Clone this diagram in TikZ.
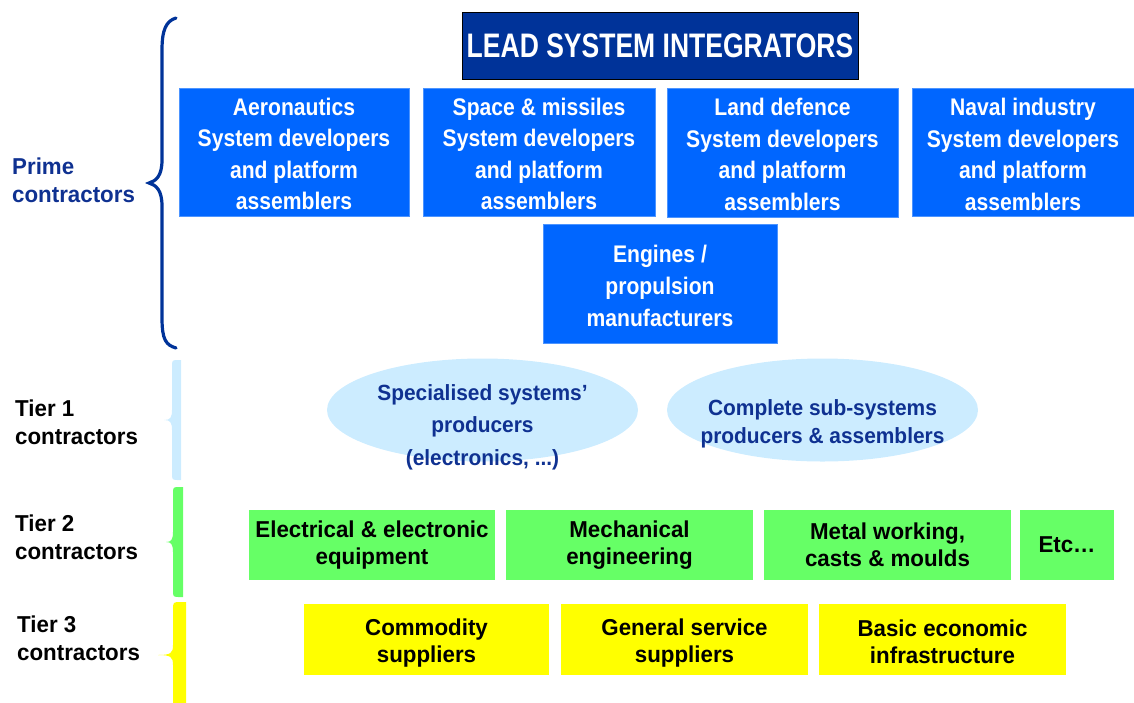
\documentclass[tikz,border=0pt]{standalone}
\usepackage{fontspec}
\setmainfont{Liberation Sans}
\newfontfamily\fblue[FakeStretch=0.88]{Liberation Sans}
\newfontfamily\flead[FakeStretch=0.78]{Liberation Sans}
\newfontfamily\fnorm[FakeStretch=0.97]{Liberation Sans}
\newfontfamily\fell[FakeStretch=0.95]{Liberation Sans}
\usetikzlibrary{shapes.geometric}
\definecolor{navy}{HTML}{003399}
\definecolor{dtext}{HTML}{0F3191}
\definecolor{bbox}{HTML}{0066FF}
\definecolor{ellc}{HTML}{CCECFF}
\definecolor{gbox}{HTML}{66FF66}
\definecolor{ybox}{HTML}{FFFF00}
\tikzset{
  leadbox/.style={draw=black, line width=1pt, fill=navy, text=white, inner sep=0pt,
    font=\flead\bfseries\fontsize{34}{40}\selectfont},
  bluebox/.style={fill=bbox, draw=bbox!70!white, line width=0.6pt, text=white, inner sep=0pt, align=center,
    font=\fblue\bfseries\fontsize{24}{31.5}\selectfont},
  ellshape/.style={ellipse, fill=ellc, inner sep=0pt},
  elltext/.style={text=dtext, align=center, inner sep=0pt, font=\fell\bfseries\fontsize{22}{28}\selectfont},
  greenbox/.style={fill=gbox, inner sep=0pt, align=center, text=black,
    font=\fnorm\bfseries\fontsize{23}{27}\selectfont},
  yellowbox/.style={fill=ybox, inner sep=0pt, align=center, text=black,
    font=\fnorm\bfseries\fontsize{23}{27}\selectfont},
  boxtext/.style={inner sep=0pt, align=center},
  sidelabel/.style={anchor=west, align=left, inner sep=0pt,
    font=\fnorm\bfseries\fontsize{23}{28}\selectfont},
}
\newcommand\mytierbrace[8]{% colour, xl, xr, yt, yb, xtip, ym, r
  \fill[#1] (#3,#4) -- (#3,#5) -- ({#2+#8},#5) .. controls (#2,#5) .. (#2,{#5-#8})
    -- (#2,{#7+10}) .. controls (#2,{#7+2}) and ({#2-2},#7) .. (#6,#7)
    .. controls ({#2-2},#7) and (#2,{#7-2}) .. (#2,{#7-10})
    -- (#2,{#4+#8}) .. controls (#2,#4) .. ({#2+#8},#4) -- cycle;}
\begin{document}
\begin{tikzpicture}[x=1pt, y=-1pt]
\useasboundingbox (0,0) rectangle (1134,702);

% lead
\node[leadbox, minimum width=396pt, minimum height=67pt] (lead) at (660,45.5) {LEAD SYSTEM INTEGRATORS};

% prime contractor boxes
\node[bluebox, minimum width=230pt, minimum height=128pt] (aero) at (294,152) {};
\node[bluebox, minimum width=232pt, minimum height=128pt] (space) at (539,152) {};
\node[bluebox, minimum width=231pt, minimum height=129pt] (land) at (782.5,152.5) {};
\node[bluebox, minimum width=222pt, minimum height=128pt] (naval) at (1023,152.5) {};
\node[bluebox, minimum width=234pt, minimum height=119pt] (eng) at (660,283.5) {};
\begin{scope}[every node/.style={boxtext, text=white, font=\fblue\bfseries\fontsize{24}{31.5}\selectfont}]
\node (aerot) at ([yshift=-2pt]aero.center) {Aeronautics\\System developers\\and platform\\assemblers};
\node (spacet) at ([yshift=-2pt]space.center) {Space \& missiles\\System developers\\and platform\\assemblers};
\node (landt) at ([yshift=-2pt]land.center) {Land defence\\System developers\\and platform\\assemblers};
\node (navalt) at ([yshift=-2pt]naval.center) {Naval industry\\System developers\\and platform\\assemblers};
\node[font=\fblue\bfseries\fontsize{24}{32}\selectfont] (engt) at ([yshift=-2pt]eng.center) {Engines /\\propulsion\\manufacturers};
\end{scope}

% tier 1 ellipses
\node[ellshape, minimum width=311pt, minimum height=103pt] (ell1) at (482.5,410) {};
\node[elltext, font=\fell\bfseries\fontsize{22}{32.5}\selectfont] (ell1t) at ([yshift=-17pt]ell1.center) {Specialised systems’\\producers\\(electronics, ...)};
\node[ellshape, minimum width=311pt, minimum height=103pt] (ell2) at (822.5,410) {};
\node[elltext] (ell2t) at ([yshift=-14pt]ell2.center) {Complete sub-systems\\producers \& assemblers};

% tier 2
\node[greenbox, minimum width=246pt, minimum height=70pt] (g1) at (372,545) {Electrical \& electronic\\equipment};
\node[greenbox, minimum width=247pt, minimum height=70pt] (g2) at (629.5,545) {Mechanical\\engineering};
\node[greenbox, minimum width=247pt, minimum height=70pt] (g3) at (887.5,545) {Metal working,\\casts \& moulds};
\node[greenbox, minimum width=94pt, minimum height=70pt] (g4) at (1067,545) {Etc…};

% tier 3
\node[yellowbox, minimum width=245pt, minimum height=71pt] (y1) at (426.5,639.5) {};
\node[yellowbox, minimum width=247pt, minimum height=71pt] (y2) at (684.5,639.5) {};
\node[yellowbox, minimum width=247pt, minimum height=71pt] (y3) at (942.5,639.5) {};
\begin{scope}[every node/.style={boxtext, font=\fnorm\bfseries\fontsize{23}{27}\selectfont}]
\node (y1t) at ([yshift=-4pt]y1.center) {Commodity\\suppliers};
\node (y2t) at ([yshift=-4pt]y2.center) {General service\\suppliers};
\node (y3t) at ([yshift=-2pt]y3.center) {Basic economic\\infrastructure};
\end{scope}

% side labels
\node[sidelabel, text=dtext] (lprime) at (12,180) {Prime\\contractors};
\node[sidelabel] (lt1) at (15,422) {Tier 1\\contractors};
\node[sidelabel] (lt2) at (15,537) {Tier 2\\contractors};
\node[sidelabel] (lt3) at (17,638) {Tier 3\\contractors};

% prime brace
\draw[navy, line width=3.2pt, line cap=round] (176,18) .. controls (166,21) and (162,30) .. (162,50)
  -- (162,160) .. controls (162,176) and (156,181) .. (149,183)
  .. controls (156,185) and (162,190) .. (162,206)
  -- (162,318) .. controls (162,340) and (166,345) .. (176,348);

% tier braces
\mytierbrace{ellc}{172}{181}{360}{480}{164}{420}{7}
\mytierbrace{gbox}{173}{183}{487}{597}{166}{542}{7}
\mytierbrace{ybox}{173}{186}{602}{710}{158}{655}{8}
\end{tikzpicture}
\end{document}
